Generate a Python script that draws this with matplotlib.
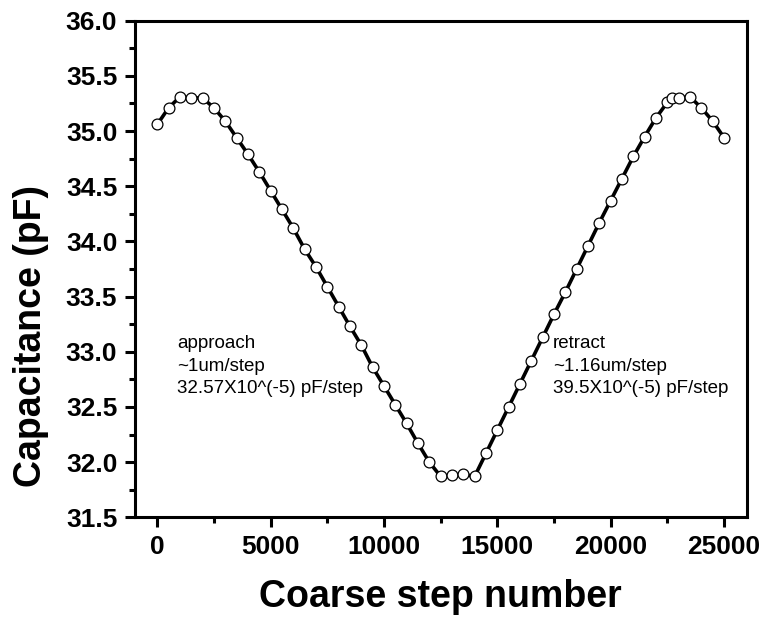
import matplotlib
matplotlib.use("Agg")
import matplotlib.pyplot as plt
from matplotlib.ticker import MultipleLocator, FormatStrFormatter

steps = [0, 500, 1000, 1500, 2000, 2500, 3000, 3500, 4000, 4500,
         5000, 5500, 6000, 6500, 7000, 7500, 8000, 8500, 9000, 9500,
         10000, 10500, 11000, 11500, 12000, 12500, 13000, 13500, 14000, 14500,
         15000, 15500, 16000, 16500, 17000, 17500, 18000, 18500, 19000, 19500,
         20000, 20500, 21000, 21500, 22000, 22500, 22700, 23000, 23500, 24000,
         24500, 25000]
capacitance = [35.06, 35.21, 35.31, 35.30, 35.30, 35.21, 35.09, 34.94, 34.79, 34.63,
               34.46, 34.29, 34.12, 33.93, 33.77, 33.59, 33.41, 33.23, 33.06, 32.86,
               32.69, 32.52, 32.35, 32.17, 32.00, 31.87, 31.88, 31.89, 31.87, 32.08,
               32.29, 32.50, 32.71, 32.92, 33.13, 33.34, 33.54, 33.75, 33.96, 34.17,
               34.37, 34.57, 34.77, 34.95, 35.12, 35.26, 35.30, 35.30, 35.31, 35.21,
               35.09, 34.94]

approach_text = "approach\n~1um/step\n32.57X10^(-5) pF/step"
retract_text = "retract\n~1.16um/step\n39.5X10^(-5) pF/step"

plt.rcParams['font.family'] = ['Liberation Sans', 'DejaVu Sans']

W, H = 764, 625
fig = plt.figure(figsize=(W / 100, H / 100), dpi=100)
left, right, top, bottom = 134.6, 746.7, 20.7, 517.3
ax = fig.add_axes([left / W, 1 - bottom / H, (right - left) / W, (bottom - top) / H])

ax.plot(steps, capacitance, color='black', lw=2.6, marker='o', markersize=7.8,
        markerfacecolor='white', markeredgecolor='black', markeredgewidth=0.9,
        zorder=3)

ax.set_xlim(-1000, 26000)
ax.set_ylim(31.5, 36.0)
ax.xaxis.set_major_locator(MultipleLocator(5000))
ax.xaxis.set_minor_locator(MultipleLocator(2500))
ax.yaxis.set_major_locator(MultipleLocator(0.5))
ax.yaxis.set_minor_locator(MultipleLocator(0.25))
ax.yaxis.set_major_formatter(FormatStrFormatter('%.1f'))

for s in ax.spines.values():
    s.set_linewidth(2.2)
ax.tick_params(which='major', direction='out', length=7.5, width=2.2,
               labelsize=19, pad=5, top=False, right=False)
ax.tick_params(which='minor', direction='out', length=4, width=2.2,
               top=False, right=False)
for lbl in ax.get_xticklabels() + ax.get_yticklabels():
    lbl.set_fontweight('bold')

fig.text(440.6 / W, 1 - 597 / H, "Coarse step number", ha='center', va='center',
         fontsize=27, fontweight='bold')
fig.text(31 / W, 1 - 336 / H, "Capacitance (pF)", ha='center', va='center',
         rotation=90, fontsize=27, fontweight='bold')

ax.text(870, 33.15, approach_text, fontsize=13.5, va='top', ha='left',
        linespacing=1.42)
ax.text(17450, 33.15, retract_text, fontsize=13.5, va='top', ha='left',
        linespacing=1.42)

fig.savefig("out.png", dpi=100)
